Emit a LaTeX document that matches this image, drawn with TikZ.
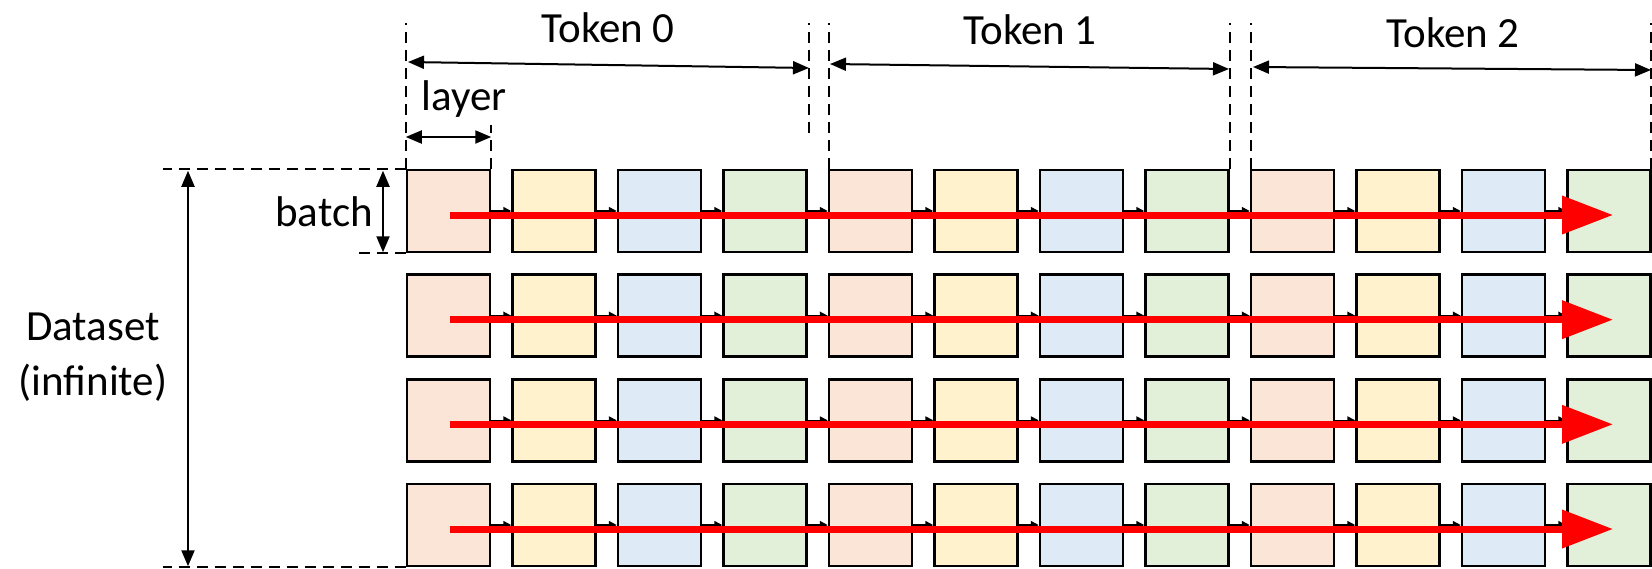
\documentclass[tikz,border=0pt]{standalone}
\usepackage{fontspec}
\setmainfont{Carlito}
\usetikzlibrary{arrows.meta,calc}
\definecolor{cpeach}{HTML}{FBE5D6}
\definecolor{cyellow}{HTML}{FFF2CC}
\definecolor{cblue}{HTML}{DEEBF7}
\definecolor{cgreen}{HTML}{E2F0D9}
\begin{document}
\begin{tikzpicture}[x=1pt,y=-1pt,
  cell/.style={draw=black,line width=2.5pt,minimum width=83pt,minimum height=82pt,inner sep=0pt},
  link/.style={draw=black,line width=1.5pt,-{Triangle[length=8pt,width=8pt]}},
  flow/.style={draw=red,line width=7pt,-{Triangle[length=51pt,width=37pt]}},
  dimarrow/.style={draw=black,line width=2pt,{Triangle[length=16pt,width=13pt]}-{Triangle[length=16pt,width=13pt]}},
  guide/.style={draw=black,line width=2pt,dash pattern=on 11pt off 7pt},
  lbl/.style={font=\fontsize{43}{52}\selectfont,inner sep=0pt}]
\useasboundingbox (0,0) rectangle (1652,568);
\fill[white] (0,0) rectangle (1652,568);

% cells
\foreach \r in {0,...,3}{
  \foreach \c/\col in {0/cpeach,1/cyellow,2/cblue,3/cgreen,4/cpeach,5/cyellow,6/cblue,7/cgreen,8/cpeach,9/cyellow,10/cblue,11/cgreen}{
    \node[cell,fill=\col] (b-\r-\c) at ({448.5+105.5*\c},{211+104.67*\r}) {};
  }
}

% small links between cells
\foreach \r in {0,...,3}{
  \foreach \c [evaluate=\c as \n using int(\c+1)] in {0,...,10}{
    \draw[link] (b-\r-\c.east) -- (b-\r-\n.west);
  }
}

% red flow arrows
\foreach \r in {0,...,3}{
  \draw[flow] ([xshift=1pt,yshift=-4pt]b-\r-0.center) -- ([xshift=4pt,yshift=-4pt]b-\r-11.center);
}

% guide coordinates
\coordinate (top) at (0,23);
\coordinate (layertop) at (0,125);
\coordinate (lefta) at (163,0);
\coordinate (leftb) at (352,0);

% vertical dashed guides
\draw[guide] (b-0-0.north west) -- (b-0-0.north west |- top);
\draw[guide] (b-0-0.north east) -- (b-0-0.north east |- layertop);
\draw[guide] ([xshift=1pt,yshift=36pt]b-0-3.north east) -- ([xshift=1pt]b-0-3.north east |- top);
\draw[guide] ([xshift=1pt]b-0-4.north west) -- ([xshift=1pt]b-0-4.north west |- top);
\draw[guide] (b-0-7.north east) -- (b-0-7.north east |- top);
\draw[guide] ([xshift=1pt]b-0-8.north west) -- ([xshift=1pt]b-0-8.north west |- top);
\draw[guide] (1651,169) -- (1651,23);

% horizontal dashed guides
\draw[guide] (b-0-0.north west) -- (b-0-0.north west -| lefta);
\draw[guide] (b-0-0.south west) -- (b-0-0.south west -| leftb);
\draw[guide] (b-3-0.south west) -- (b-3-0.south west -| lefta);

% token spans
\coordinate (t0a) at (408,62);
\coordinate (t0b) at (809,68);
\coordinate (t1a) at (830,64);
\coordinate (t1b) at (1229,69);
\coordinate (t2a) at (1253,67);
\coordinate (t2b) at (1651,70);
\draw[dimarrow] (t0a) -- (t0b);
\draw[dimarrow] (t1a) -- (t1b);
\draw[dimarrow] (t2a) -- (t2b);
\node[lbl,anchor=base] (tok0) at (608,42) {Token 0};
\node[lbl,anchor=base] (tok1) at (1030,44) {Token 1};
\node[lbl,anchor=base] (tok2) at (1453,47) {Token 2};

% layer
\coordinate (ly) at (0,137);
\draw[dimarrow] (b-0-0.north west |- ly) -- (b-0-0.north east |- ly);
\node[lbl,anchor=base] (layerlbl) at (464,110) {layer};

% batch
\coordinate (bx) at (383,0);
\draw[dimarrow] ([yshift=-2pt]b-0-0.north west -| bx) -- ([yshift=1pt]b-0-0.south west -| bx);
\node[lbl,anchor=base east] (batchlbl) at (373,226) {batch};

% dataset
\coordinate (dx) at (188,0);
\draw[dimarrow] ([yshift=-2pt]b-0-0.north west -| dx) -- ([yshift=1pt]b-3-0.south west -| dx);
\node[lbl,anchor=base] (ds1) at (93,340) {Dataset};
\node[lbl,anchor=base] (ds2) at (93,395) {(infinite)};
\end{tikzpicture}
\end{document}
